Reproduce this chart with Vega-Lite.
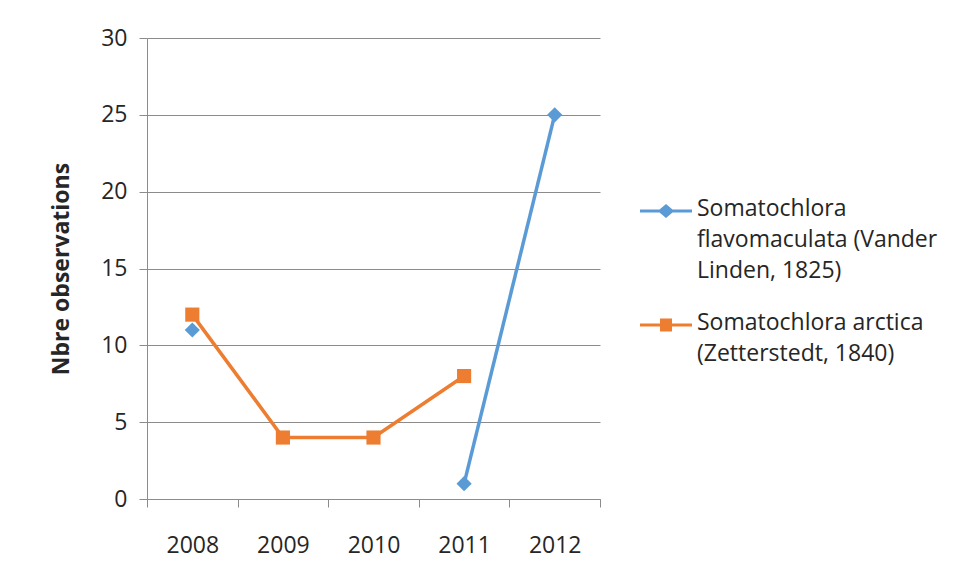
{
  "$schema": "https://vega.github.io/schema/vega-lite/v6.json",
  "autosize": "none",
  "width": 453,
  "height": 461,
  "padding": {"left": 147, "top": 38, "right": 358, "bottom": 80},
  "background": "white",
  "config": {
    "view": {"stroke": null},
    "font": "Open Sans",
    "axis": {
      "labelFont": "Open Sans",
      "labelFontSize": 23,
      "labelColor": "#262626",
      "domainColor": "#8c8c8c",
      "tickColor": "#8c8c8c",
      "gridColor": "#8c8c8c",
      "tickSize": 8,
      "titleFont": "Open Sans",
      "titleColor": "#262626"
    },
    "legend": {"labelFont": "Open Sans", "labelColor": "#262626"}
  },
  "data": {
    "values": [
      {"year": "2008", "series": "Somatochlora flavomaculata (Vander Linden, 1825)", "value": 11},
      {"year": "2009", "series": "Somatochlora flavomaculata (Vander Linden, 1825)", "value": null},
      {"year": "2010", "series": "Somatochlora flavomaculata (Vander Linden, 1825)", "value": null},
      {"year": "2011", "series": "Somatochlora flavomaculata (Vander Linden, 1825)", "value": 1},
      {"year": "2012", "series": "Somatochlora flavomaculata (Vander Linden, 1825)", "value": 25},
      {"year": "2008", "series": "Somatochlora arctica (Zetterstedt, 1840)", "value": 12},
      {"year": "2009", "series": "Somatochlora arctica (Zetterstedt, 1840)", "value": 4},
      {"year": "2010", "series": "Somatochlora arctica (Zetterstedt, 1840)", "value": 4},
      {"year": "2011", "series": "Somatochlora arctica (Zetterstedt, 1840)", "value": 8}
    ]
  },
  "encoding": {
    "x": {
      "field": "year",
      "type": "ordinal",
      "bandPosition": 0.5,
      "scale": {"type": "band", "paddingInner": 0, "paddingOuter": 0},
      "axis": {
        "title": null,
        "labelAngle": 0,
        "tickBand": "extent",
        "labelPadding": 27,
        "grid": false
      }
    },
    "y": {
      "field": "value",
      "type": "quantitative",
      "scale": {"domain": [0, 30], "nice": false},
      "axis": {
        "values": [0, 5, 10, 15, 20, 25, 30],
        "grid": true,
        "labelPadding": 12,
        "title": "Nbre observations",
        "titleFontSize": 23,
        "titleFontWeight": "bold",
        "titlePadding": 27
      }
    },
    "color": {
      "field": "series",
      "type": "nominal",
      "sort": ["Somatochlora flavomaculata (Vander Linden, 1825)", "Somatochlora arctica (Zetterstedt, 1840)"],
      "scale": {
        "domain": ["Somatochlora flavomaculata (Vander Linden, 1825)", "Somatochlora arctica (Zetterstedt, 1840)"],
        "range": ["#5b9bd5", "#ed7d31"]
      },
      "legend": {
        "title": null,
        "orient": "none",
        "legendX": 493,
        "legendY": 147,
        "symbolSize": 2704,
        "symbolStrokeWidth": 0,
        "labelFontSize": 23,
        "labelLimit": 0,
        "labelOffset": 5,
        "labelBaseline": "top",
        "rowPadding": 16,
        "labelExpr": "datum.value == 'Somatochlora flavomaculata (Vander Linden, 1825)' ? ['Somatochlora', 'flavomaculata (Vander', 'Linden, 1825)'] : ['Somatochlora arctica', '(Zetterstedt, 1840)']",
        "encode": {
          "labels": {"update": {"lineHeight": {"value": 31}, "dy": {"value": -13}}},
          "symbols": {
            "update": {
              "fill": {"signal": "scale('color', datum.value)"},
              "stroke": {"value": "transparent"},
              "opacity": {"value": 1},
              "shape": {"signal": "datum.value == 'Somatochlora flavomaculata (Vander Linden, 1825)' ? 'M-1,-0.06 L-0.25,-0.06 L0,-0.27 L0.25,-0.06 L1,-0.06 L1,0.06 L0.25,0.06 L0,0.27 L-0.25,0.06 L-1,0.06 Z' : 'M-1,-0.06 L-0.23,-0.06 L-0.23,-0.25 L0.23,-0.25 L0.23,-0.06 L1,-0.06 L1,0.06 L0.23,0.06 L0.23,0.25 L-0.23,0.25 L-0.23,0.06 L-1,0.06 Z'"}
            }
          }
        }
      }
    }
  },
  "layer": [
    {
      "mark": {"type": "line", "strokeWidth": 3.5}
    },
    {
      "transform": [{"filter": "datum.series == 'Somatochlora flavomaculata (Vander Linden, 1825)'"}],
      "mark": {"type": "point", "shape": "diamond", "filled": true, "opacity": 1, "size": 230}
    },
    {
      "transform": [{"filter": "datum.series == 'Somatochlora arctica (Zetterstedt, 1840)'"}],
      "mark": {"type": "point", "shape": "square", "filled": true, "opacity": 1, "size": 200}
    }
  ]
}
